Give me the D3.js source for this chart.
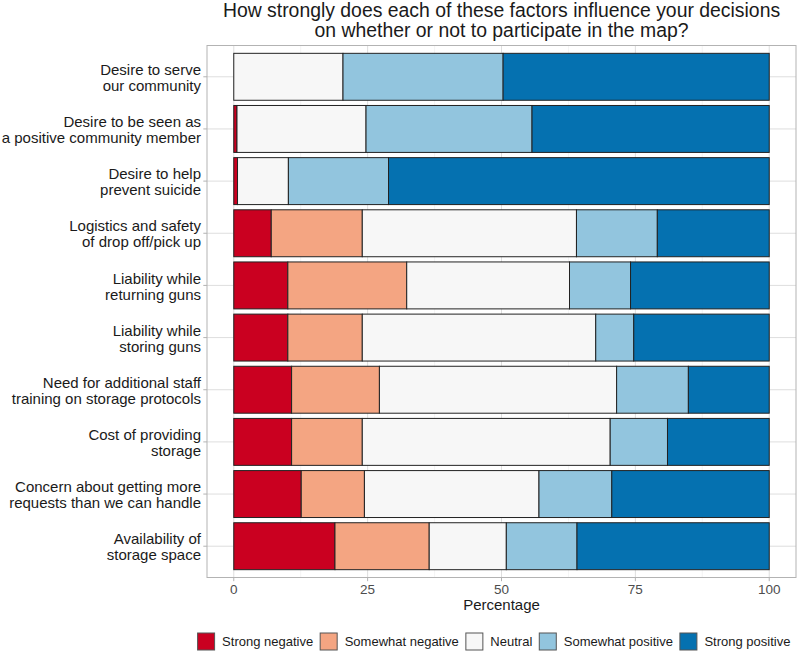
<!DOCTYPE html>
<meta charset="utf-8">
<style>
    body {
        margin: 0;
        background: #fff;
        font-family: "Liberation Sans", Arial, Helvetica, sans-serif;
    }

    .grid--major {
        stroke: #dedede;
        stroke-width: 1px;
    }

    .grid--minor {
        stroke: #ececec;
        stroke-width: 0.6px;
    }

    .tick {
        stroke: #b3b3b3;
        stroke-width: 1px;
    }

    .seg {
        stroke: #222;
        stroke-width: 1px;
    }
</style>

<body>
    <script src="https://d3js.org/d3.v7.min.js"></script>
    <script>
        // Survey items, top to bottom
        var categories = [
            ["Desire to serve", "our community"],
            ["Desire to be seen as", "a positive community member"],
            ["Desire to help", "prevent suicide"],
            ["Logistics and safety", "of drop off/pick up"],
            ["Liability while", "returning guns"],
            ["Liability while", "storing guns"],
            ["Need for additional staff", "training on storage protocols"],
            ["Cost of providing", "storage"],
            ["Concern about getting more", "requests than we can handle"],
            ["Availability of", "storage space"]
        ];
        // Percentages per response level
        var strongNegative = [0, 0.6, 0.7, 7.0, 10.1, 10.1, 10.8, 10.8, 12.6, 18.9];
        var somewhatNegative = [0, 0, 0, 17.0, 22.2, 13.9, 16.4, 13.2, 11.8, 17.6];
        var neutral = [20.4, 24.1, 9.5, 40.0, 30.4, 43.6, 44.3, 46.3, 32.6, 14.4];
        var somewhatPositive = [29.9, 31.0, 18.7, 15.1, 11.4, 7.1, 13.4, 10.7, 13.6, 13.2];
        var strongPositive = [49.7, 44.3, 71.1, 20.9, 25.9, 25.3, 15.1, 19.0, 29.4, 35.9];

        var levels = ["Strong negative", "Somewhat negative", "Neutral", "Somewhat positive", "Strong positive"];
        var colors = ["#ca0020", "#f4a582", "#f7f7f7", "#92c5de", "#0571b0"];
        var xTicks = [0, 25, 50, 75, 100];
        var xMinor = [12.5, 37.5, 62.5, 87.5];

        var series = [strongNegative, somewhatNegative, neutral, somewhatPositive, strongPositive];
        var rows = categories.map(function (c, i) {
            var r = { idx: i };
            levels.forEach(function (l, j) { r[l] = series[j][i]; });
            return r;
        });

        var width = 797,
            height = 651;
        var panel = { left: 207, right: 796, top: 45.5, bottom: 577.5 };

        var svg = d3.select("body").append("svg")
            .attr("width", width)
            .attr("height", height);

        var x = d3.scaleLinear()
            .domain([-5, 105])
            .range([panel.left, panel.right]);

        var y = d3.scalePoint()
            .domain(d3.range(categories.length))
            .range([panel.top, panel.bottom])
            .padding(0.6);
        var barH = y.step() * 0.9;

        var color = d3.scaleOrdinal().domain(levels).range(colors);

        // Grid
        var grid = svg.append("g");
        grid.selectAll(".grid--minor")
            .data(xMinor)
            .enter().append("line")
            .attr("class", "grid--minor")
            .attr("x1", x).attr("x2", x)
            .attr("y1", panel.top).attr("y2", panel.bottom);
        grid.selectAll(".grid--major.v")
            .data(xTicks)
            .enter().append("line")
            .attr("class", "grid--major v")
            .attr("x1", x).attr("x2", x)
            .attr("y1", panel.top).attr("y2", panel.bottom);
        grid.selectAll(".grid--major.h")
            .data(y.domain())
            .enter().append("line")
            .attr("class", "grid--major h")
            .attr("x1", panel.left).attr("x2", panel.right)
            .attr("y1", y).attr("y2", y);

        // Stacked bars
        var stacked = d3.stack().keys(levels)(rows);
        svg.append("g")
            .selectAll("g")
            .data(stacked)
            .enter().append("g")
            .attr("fill", function (d) { return color(d.key); })
            .selectAll("rect")
            .data(function (d) { return d.filter(function (s) { return s[1] - s[0] > 0; }); })
            .enter().append("rect")
            .attr("class", "seg")
            .attr("x", function (d) { return x(d[0]); })
            .attr("width", function (d) { return x(d[1]) - x(d[0]); })
            .attr("y", function (d) { return y(d.data.idx) - barH / 2; })
            .attr("height", barH);

        // Panel border
        svg.append("rect")
            .attr("x", panel.left).attr("y", panel.top)
            .attr("width", panel.right - panel.left)
            .attr("height", panel.bottom - panel.top)
            .attr("fill", "none")
            .attr("stroke", "#b3b3b3")
            .attr("stroke-width", 1);

        // Y axis
        var yAxis = svg.append("g");
        yAxis.selectAll("line")
            .data(y.domain())
            .enter().append("line")
            .attr("class", "tick")
            .attr("x1", panel.left - 3.7).attr("x2", panel.left)
            .attr("y1", y).attr("y2", y);
        var ylab = yAxis.selectAll("text")
            .data(y.domain())
            .enter().append("text")
            .attr("text-anchor", "end")
            .attr("font-size", "15px")
            .attr("fill", "#1a1a1a")
            .attr("transform", function (d) { return "translate(" + (panel.left - 6) + "," + y(d) + ")"; });
        ylab.append("tspan").attr("x", 0).attr("y", -1.8).text(function (d) { return categories[d][0]; });
        ylab.append("tspan").attr("x", 0).attr("y", 14.2).text(function (d) { return categories[d][1]; });

        // X axis
        var xAxis = svg.append("g");
        xAxis.selectAll("line")
            .data(xTicks)
            .enter().append("line")
            .attr("class", "tick")
            .attr("x1", x).attr("x2", x)
            .attr("y1", panel.bottom).attr("y2", panel.bottom + 3.7);
        xAxis.selectAll("text")
            .data(xTicks)
            .enter().append("text")
            .attr("x", x)
            .attr("y", 594)
            .attr("text-anchor", "middle")
            .attr("font-size", "13.5px")
            .attr("fill", "#4d4d4d")
            .text(function (d) { return d; });

        svg.append("text")
            .attr("x", (panel.left + panel.right) / 2)
            .attr("y", 610)
            .attr("text-anchor", "middle")
            .attr("font-size", "15px")
            .attr("fill", "#1a1a1a")
            .text("Percentage");

        // Title
        var title = svg.append("text")
            .attr("text-anchor", "middle")
            .attr("font-size", "19.4px")
            .attr("fill", "#1a1a1a");
        title.append("tspan").attr("x", (panel.left + panel.right) / 2).attr("y", 17)
            .text("How strongly does each of these factors influence your decisions");
        title.append("tspan").attr("x", (panel.left + panel.right) / 2).attr("y", 37)
            .text("on whether or not to participate in the map?");

        // Legend
        var keySize = 17;
        var legend = svg.append("g");
        var items = legend.selectAll("g")
            .data(levels)
            .enter().append("g");
        items.append("rect")
            .attr("width", keySize).attr("height", keySize)
            .attr("fill", function (d) { return color(d); })
            .attr("stroke", "#555")
            .attr("stroke-width", 1);
        items.append("text")
            .attr("x", keySize + 7.5)
            .attr("y", 13)
            .attr("font-size", "13px")
            .attr("fill", "#1a1a1a")
            .text(function (d) { return d; });
        var offset = 0;
        var widths = [];
        items.each(function () {
            var w = keySize + 7.5 + d3.select(this).select("text").node().getComputedTextLength();
            widths.push(w);
        });
        var total = d3.sum(widths) + 7 * (levels.length - 1);
        var start = 494 - total / 2;
        items.attr("transform", function (d, i) {
            var t = "translate(" + (start + offset) + ",633)";
            offset += widths[i] + 7;
            return t;
        });
    </script>
</body>
